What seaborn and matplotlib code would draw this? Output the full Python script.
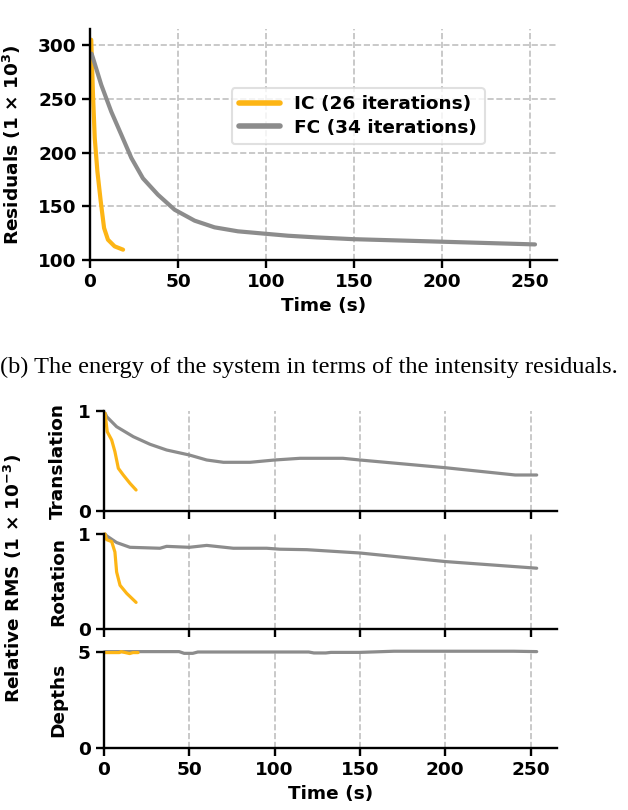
import numpy as np
import pandas as pd
import matplotlib
matplotlib.use("Agg")
import matplotlib.pyplot as plt
import seaborn as sns

# ---------------- data ----------------
# (a) residuals (x 10^3) vs time
ic_res_t = [0.7, 1.7, 2.7, 4.2, 6.1, 8.0, 10.2, 14.0, 18.8]
ic_res_v = [305, 253.8, 213.5, 182.5, 154.6, 129.8, 118.9, 112.7, 109.6]
fc_res_t = [0.9, 1.7, 6.4, 12.1, 17.8, 23.5, 30.1, 38.6, 48.1, 59.5, 70.8, 84.1,
            99.2, 112.5, 129, 149.5, 200.6, 253]
fc_res_v = [292, 288, 263, 238, 216.6, 195, 176, 160.8, 146.8, 136.6, 130.4, 126.7,
            124.5, 122.6, 121, 119.4, 117, 114.5]

# (b) relative RMS (x 10^-3)
ic_tr_t = [0.6, 1.9, 4.5, 6.4, 8.4, 11.3, 15.2, 18.8]
ic_tr_v = [0.977, 0.793, 0.71, 0.593, 0.427, 0.36, 0.277, 0.21]
fc_tr_t = [0.6, 1.6, 7.4, 17.2, 27, 36.7, 50, 60.2, 70, 85.6, 100, 114.9, 140, 150,
           200, 241, 253.6]
fc_tr_v = [0.98, 0.943, 0.843, 0.743, 0.667, 0.61, 0.56, 0.51, 0.487, 0.487, 0.51,
           0.527, 0.527, 0.51, 0.433, 0.36, 0.36]

ic_rot_t = [0.6, 1.6, 4.5, 6.4, 7.4, 9.4, 13.3, 18.8]
ic_rot_v = [1.0, 0.94, 0.92, 0.81, 0.60, 0.46, 0.375, 0.28]
fc_rot_t = [0.6, 1.6, 7.4, 15.2, 32.8, 36.7, 50, 60.2, 75.8, 95.4, 103, 118.8, 150,
            200, 253.6]
fc_rot_v = [1.0, 0.98, 0.91, 0.86, 0.85, 0.87, 0.86, 0.88, 0.85, 0.85, 0.84, 0.835,
            0.80, 0.71, 0.64]

ic_dep_t = [0.6, 9.0, 10.0, 15.0, 17.0, 20.0]
ic_dep_v = [4.97, 4.97, 5.02, 4.92, 4.97, 4.97]
fc_dep_t = [0.6, 44, 47, 52, 55, 120, 123, 130, 133, 150, 170, 240, 253.6]
fc_dep_v = [5.02, 5.02, 4.93, 4.93, 5.0, 5.0, 4.95, 4.95, 4.98, 4.98, 5.04, 5.04, 5.02]

labels = ["IC (26 iterations)", "FC (34 iterations)"]
colors = ["#FDB515", "#8C8C8C"]

# ---------------- style ----------------
sns.set_style("ticks")
plt.rcParams["font.family"] = ["DejaVu Sans"]
plt.rcParams["font.weight"] = "bold"
plt.rcParams["mathtext.fontset"] = "dejavusans"
plt.rcParams["mathtext.default"] = "bf"
FS = 13.3
plt.rcParams.update({
    "axes.linewidth": 1.7,
    "xtick.major.width": 1.7,
    "ytick.major.width": 1.7,
    "xtick.major.size": 6,
    "ytick.major.size": 6,
    "xtick.direction": "out",
    "ytick.direction": "out",
    "xtick.labelsize": FS,
    "ytick.labelsize": FS,
    "axes.labelsize": FS,
    "axes.labelweight": "bold",
    "axes.edgecolor": "black",
    "axes.labelcolor": "black",
    "text.color": "black",
    "xtick.color": "black",
    "ytick.color": "black",
})

W, H = 628, 810
fig = plt.figure(figsize=(W / 100, H / 100), dpi=100)


def ax_px(left, top, right, bottom):
    return fig.add_axes([left / W, 1 - bottom / H, (right - left) / W, (bottom - top) / H])


grid_kw = dict(color="#c0c0c0", linestyle="--", linewidth=1.2)

# ---------------- top panel ----------------
ax = ax_px(90, 29, 557, 260)
df_ic = pd.DataFrame({"t": ic_res_t, "v": ic_res_v})
df_fc = pd.DataFrame({"t": fc_res_t, "v": fc_res_v})
sns.lineplot(data=df_ic, x="t", y="v", ax=ax, color=colors[0], lw=3.0, label=labels[0])
sns.lineplot(data=df_fc, x="t", y="v", ax=ax, color=colors[1], lw=3.0, label=labels[1])
ax.set_xlim(0, 265.5)
ax.set_ylim(100, 315)
ax.set_xticks([0, 50, 100, 150, 200, 250])
ax.set_yticks([100, 150, 200, 250, 300])
ax.grid(True, **grid_kw)
ax.set_axisbelow(True)
sns.despine(ax=ax)
ax.set_xlabel("Time (s)", fontsize=FS, fontweight="bold")
ax.set_ylabel("Residuals (1 × 10$^{3}$)", fontsize=FS, fontweight="bold")
ax.yaxis.set_label_coords(-0.1435, 0.5)
leg = ax.legend(loc="center", bbox_to_anchor=(0.574, 0.623),
                prop={"size": FS, "weight": "bold"},
                frameon=True, fancybox=True, framealpha=0.8, edgecolor="#d9d9d9",
                handlelength=2.2, borderpad=0.4, labelspacing=0.3)
leg.get_frame().set_linewidth(1.5)
for h in leg.get_lines():
    h.set_linewidth(4)

# ---------------- caption ----------------
fig.text(0.0, 1 - 367 / H, "(b) The energy of the system in terms of the intensity residuals.",
         fontfamily="Liberation Serif", fontweight="normal", fontsize=17.6,
         va="center", ha="left")

# ---------------- bottom panels ----------------
panels = [
    ("Translation", (411, 511), ic_tr_t, ic_tr_v, fc_tr_t, fc_tr_v, 1),
    ("Rotation", (534, 629), ic_rot_t, ic_rot_v, fc_rot_t, fc_rot_v, 1),
    ("Depths", (652, 748), ic_dep_t, ic_dep_v, fc_dep_t, fc_dep_v, 5),
]
for i, (name, (top, bot), it, iv, ft, fv, ymax) in enumerate(panels):
    a = ax_px(104, top, 557, bot)
    sns.lineplot(x=ft, y=fv, ax=a, color=colors[1], lw=2.3, clip_on=False)
    sns.lineplot(x=it, y=iv, ax=a, color=colors[0], lw=2.3, clip_on=False)
    a.set_xlim(0, 265.5)
    a.set_ylim(0, ymax)
    a.set_yticks([0, ymax])
    a.set_xticks([0, 50, 100, 150, 200, 250])
    a.xaxis.grid(True, **grid_kw)
    a.set_axisbelow(True)
    sns.despine(ax=a)
    a.set_ylabel(name, fontsize=FS, fontweight="bold")
    a.yaxis.set_label_coords(-0.0817, 0.5)
    if i < 2:
        a.tick_params(axis="x", labelbottom=False)
        a.set_xlabel("")
    else:
        a.set_xlabel("Time (s)", fontsize=FS, fontweight="bold")

fig.text(13 / W, 1 - 578 / H, "Relative RMS (1 × 10$^{-3}$)", rotation=90,
         fontsize=FS, fontweight="bold", va="center", ha="center")

fig.savefig("out.png", dpi=100)
